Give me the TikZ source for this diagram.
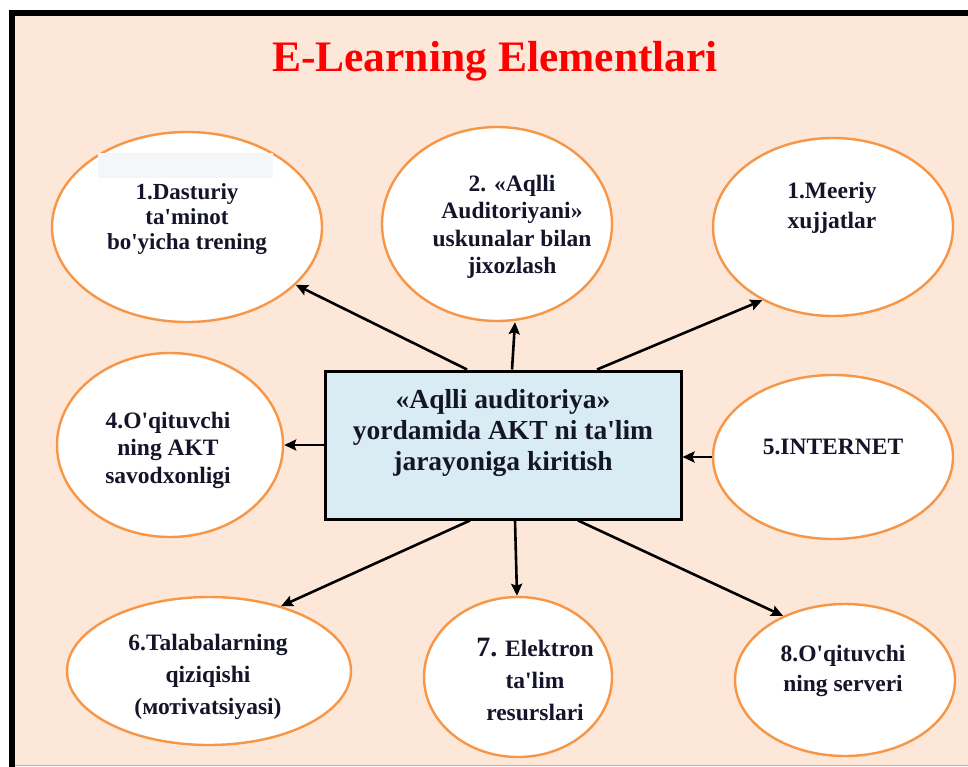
\documentclass[tikz,border=0pt]{standalone}
\usepackage{fontspec}
\setmainfont{Liberation Serif}[Ligatures=TeXOff]
\usetikzlibrary{shapes.geometric,arrows.meta}
\definecolor{peach}{HTML}{FCE7D9}
\definecolor{orangeline}{HTML}{F79646}
\definecolor{boxblue}{HTML}{DAECF3}
\definecolor{inkblue}{HTML}{15152A}
\definecolor{patch}{HTML}{F5F6F8}
\begin{document}
\begin{tikzpicture}[x=1pt, y=-1pt,
    bubble/.style={ellipse, draw=orangeline, fill=white, line width=2.4pt,
        inner sep=0pt},
    bubbletext/.style={align=center, text=inkblue, inner sep=0pt,
        font=\bfseries\fontsize{23.5}{30}\selectfont},
    centerbox/.style={rectangle, draw=black, fill=boxblue, line width=3pt,
        minimum width=356pt, minimum height=148pt},
    edge/.style={line width=2.6pt, -{Stealth[length=12pt,width=11pt,inset=2pt]}}
]
    \useasboundingbox (0,0) rectangle (968,767);
    % background and frame
    \fill[peach] (12,13) rectangle (968,765);
    \draw[gray!60, line width=1.5pt] (12,765.5) -- (968,765.5);
    \draw[line width=6pt] (12,767) -- (12,13) -- (968,13);
    \node[text=red, font=\bfseries\fontsize{43.5}{48}\selectfont] (title) at (495,61)
        {E-Learning Elementlari};
    % centre
    \node[centerbox] (box) at (503,445) {};
    \node[bubbletext, font=\bfseries\fontsize{27.5}{31}\selectfont] (boxtext) at (503,433)
        {«Aqlli auditoriya»\\yordamida AKT ni ta'lim\\jarayoniga kiritish};
    % bubbles
    \node[bubble, minimum width=270pt, minimum height=190pt] (e1) at (187,227) {};
    \node[bubble, minimum width=230pt, minimum height=194pt] (e2) at (497,224) {};
    \node[bubble, minimum width=240pt, minimum height=178pt] (e3) at (833,227) {};
    \node[bubble, minimum width=226pt, minimum height=184pt] (e4) at (170,445) {};
    \node[bubble, minimum width=240pt, minimum height=164pt] (e5) at (833,457) {};
    \node[bubble, minimum width=284pt, minimum height=148pt] (e6) at (209,671) {};
    \node[bubble, minimum width=188pt, minimum height=160pt] (e7) at (518,677) {};
    \node[bubble, minimum width=220pt, minimum height=152pt] (e8) at (845,680) {};
    \fill[patch] (98,153) rectangle (273,178);
    \node[bubbletext, font=\bfseries\fontsize{23}{25}\selectfont] (t1) at (187,219)
        {1.Dasturiy\\ta'minot\\bo'yicha trening};
    \node[bubbletext, font=\bfseries\fontsize{23.5}{27.5}\selectfont] (t2) at (512,227)
        {2. «Aqlli\\Auditoriyani»\\uskunalar bilan\\jixozlash};
    \node[bubbletext] (t3) at (832,208) {1.Meeriy\\xujjatlar};
    \node[bubbletext, font=\bfseries\fontsize{23.5}{27.5}\selectfont] (t4) at (168,450)
        {4.O'qituvchi\\ning AKT\\savodxonligi};
    \node[bubbletext] (t5) at (833,447) {5.INTERNET};
    \node[bubbletext, font=\bfseries\fontsize{23.5}{32}\selectfont] (t6) at (208,677)
        {6.Talabalarning\\qiziqishi\\(мотivatsiyasi)};
    \node[bubbletext, font=\bfseries\fontsize{23.5}{32}\selectfont] (t7) at (535,679)
        {{\fontsize{28}{32}\selectfont 7.} Elektron\\ta'lim\\resurslari};
    \node[bubbletext] (t8) at (843,671) {8.O'qituvchi\\ning serveri};
    % arrows
    \draw[edge] ([xshift=-36pt]box.north) -- (e1.-28);
    \draw[edge] ([xshift=9pt]box.north) -- ([xshift=18pt]e2.south);
    \draw[edge] ([xshift=94pt]box.north) -- (e3.226);
    \draw[edge] (box.west) -- (e4.east);
    \draw[edge] (e5.west) -- (box.east |- e5.west);
    \draw[edge] ([xshift=-33pt]box.south) -- (e6.42);
    \draw[edge] ([xshift=12pt]box.south) -- ([xshift=-1pt]e7.north);
    \draw[edge] ([xshift=75pt]box.south) -- (e8.134);
\end{tikzpicture}
\end{document}
